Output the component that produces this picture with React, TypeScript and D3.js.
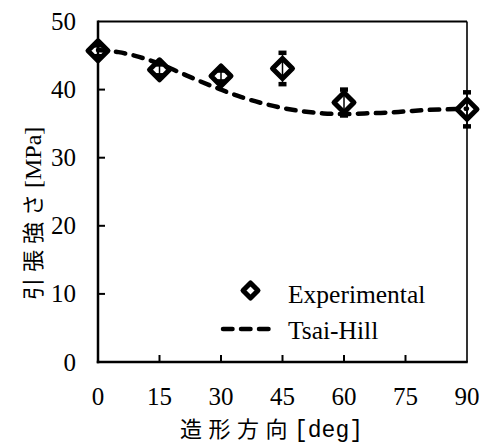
import React from 'react'
import * as d3 from 'd3'

// measured tensile strength vs build direction
const angles = [0, 15, 30, 45, 60, 90]
const strength = [45.7, 42.9, 42.0, 43.1, 38.1, 37.1]
const errs = [0.8, 0.8, 0.8, 2.3, 1.9, 2.5]

// Tsai-Hill prediction
const thAngles = [0, 5, 10, 15, 20, 25, 30, 35, 40, 45, 50, 55, 60, 65, 70, 75, 80, 85, 90]
const thValues = [45.8, 45.5, 44.8, 43.8, 42.5, 41.2, 40.0, 38.9, 38.0, 37.3, 36.8, 36.5, 36.4, 36.5, 36.6, 36.8, 37.0, 37.1, 37.2]

const xTicks = [0, 15, 30, 45, 60, 75, 90]
const yTicks = [0, 10, 20, 30, 40, 50]

const W = 490, H = 445
const left = 98, right = 467, top = 21.5, bottom = 362

const diamond = (r: number) => `M0,${-r}L${r},0L0,${r}L${-r},0Z`

const serif = { fontFamily: 'Liberation Serif, DejaVu Serif, serif' }
const cjk = { fontFamily: 'Noto Sans CJK JP, sans-serif' }
const mono = { fontFamily: 'Liberation Mono, DejaVu Sans Mono, monospace' }

export default function App() {
  const x = d3.scaleLinear().domain([0, 90]).range([left, right])
  const y = d3.scaleLinear().domain([0, 50]).range([bottom, top])

  const line = d3.line<number>()
    .x((_, i) => x(thAngles[i]))
    .y(d => y(d))
    .curve(d3.curveMonotoneX)

  return (
    <svg width={W} height={H} style={{ position: 'absolute', left: 0, top: 0, background: '#fff' }}>
      {/* tsai-hill dashed curve */}
      <path d={line(thValues) || ''} fill="none" stroke="#000" strokeWidth={4.5}
        strokeDasharray="9.5,8.5" strokeLinecap="round" />

      {/* error bars */}
      {angles.map((a, i) => (
        <g key={'e' + i} stroke="#000">
          <line x1={x(a)} x2={x(a)} y1={y(strength[i] - errs[i])} y2={y(strength[i] + errs[i])} strokeWidth={1.5} />
          <line x1={x(a) - 4} x2={x(a) + 4} y1={y(strength[i] - errs[i])} y2={y(strength[i] - errs[i])} strokeWidth={4.5} />
          <line x1={x(a) - 4} x2={x(a) + 4} y1={y(strength[i] + errs[i])} y2={y(strength[i] + errs[i])} strokeWidth={4.5} />
        </g>
      ))}

      {/* markers */}
      {angles.map((a, i) => (
        <path key={'m' + i} d={diamond(10)} transform={`translate(${x(a)},${y(strength[i])})`}
          fill="none" stroke="#000" strokeWidth={5} strokeLinejoin="round" />
      ))}

      {/* frame */}
      <line x1={left} x2={right} y1={top} y2={top} stroke="#000" strokeWidth={2} />
      <line x1={right} x2={right} y1={top} y2={bottom} stroke="#000" strokeWidth={1.6} />
      <line x1={left} x2={left} y1={top - 1} y2={bottom + 1.25} stroke="#000" strokeWidth={2.5} />
      <line x1={left - 1.25} x2={right + 0.8} y1={bottom} y2={bottom} stroke="#000" strokeWidth={2.5} />

      {/* ticks */}
      {xTicks.map(t => (
        <g key={'xt' + t}>
          {t > 0 && t < 90 && <line x1={x(t)} x2={x(t)} y1={bottom} y2={bottom - 7} stroke="#000" strokeWidth={2} />}
          <text x={x(t)} y={405} textAnchor="middle" style={serif} fontSize={25}>{t}</text>
        </g>
      ))}
      {yTicks.map(t => (
        <g key={'yt' + t}>
          {t > 0 && t < 50 && <line x1={left} x2={left + 7} y1={y(t)} y2={y(t)} stroke="#000" strokeWidth={2} />}
          <text x={76} y={y(t) + 8.5} textAnchor="end" style={serif} fontSize={25}>{t}</text>
        </g>
      ))}

      {/* legend */}
      <path d={diamond(7.5)} transform="translate(250.5,290.5)" fill="none" stroke="#000" strokeWidth={5} strokeLinejoin="round" />
      <text x={288} y={303} style={serif} fontSize={25.5}>Experimental</text>
      <line x1={223} x2={276} y1={329} y2={329} stroke="#000" strokeWidth={4.5} strokeDasharray="9.5,8.5" strokeLinecap="round" />
      <text x={288} y={339} style={serif} fontSize={25.5}>Tsai-Hill</text>

      {/* axis titles */}
      <text x={180} y={437} fontSize={22}>
        <tspan style={cjk} letterSpacing={6.5}>造形方向</tspan>
        <tspan style={mono} fontSize={23}>[deg]</tspan>
      </text>
      <text transform="translate(41,300) rotate(-90)" fontSize={22}>
        <tspan style={cjk} letterSpacing={6}>引張強さ</tspan>
        <tspan style={serif} fontSize={24}>[MPa]</tspan>
      </text>
    </svg>
  )
}
